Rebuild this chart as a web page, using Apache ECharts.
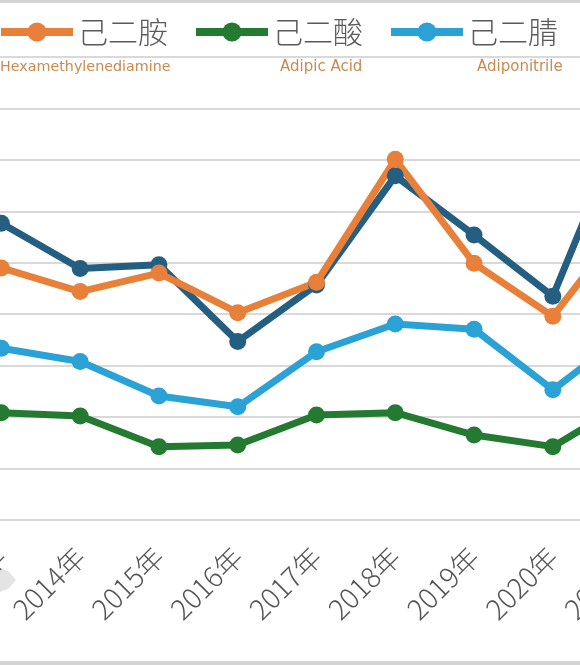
<!DOCTYPE html>
<html>
<head>
<meta charset="utf-8">
<script src="https://cdn.jsdelivr.net/npm/echarts@6/dist/echarts.min.js"></script>
<style>
html,body{margin:0;padding:0;background:#fff;overflow:hidden;}
#chart{width:580px;height:665px;}
</style>
</head>
<body>
<div id="chart"></div>
<script>
const years = ['2013年','2014年','2015年','2016年','2017年','2018年','2019年','2020年','2021年'];
const hmdaName = '己二胺';
const adipicName = '己二酸';
const adnName = '己二腈';
const otherName = '系列4';
const hmda   = [24500, 22200, 24000, 20150, 23100, 35050, 24950, 19800, 29600];
const adipic = [10430, 10110, 7130, 7290, 10210, 10430, 8260, 7130, 11700];
const adn    = [16700, 15400, 12050, 11000, 16350, 19050, 18550, 12650, 18500];
const other  = [28850, 24450, 24800, 17350, 22850, 33450, 27700, 21750, 40300];
const englishNames = ['Hexamethylenediamine', 'Adipic Acid', 'Adiponitrile'];
const yMin = 0, yMax = 45000, yStep = 5000;

const chart = echarts.init(document.getElementById('chart'));
const cjk = "'Noto Sans CJK SC','Noto Sans',sans-serif";
const enFont = "'DejaVu Sans',sans-serif";
function lineSeries(name, data, color) {
  return {
    name: name, type: 'line', data: data,
    symbol: 'circle', symbolSize: 17,
    lineStyle: {width: 7, color: color},
    itemStyle: {color: color},
    emphasis: {disabled: true}
  };
}
chart.setOption({
  animation: false,
  backgroundColor: '#fff',
  grid: {left: -38, right: -91, top: 57, bottom: 145, containLabel: false, outerBoundsMode: 'none'},
  legend: {
    data: [hmdaName, adipicName, adnName],
    left: -8, top: 12,
    itemWidth: 72, itemHeight: 24, itemGap: 24,
    lineStyle: {width: 8},
    textStyle: {fontSize: 30, color: '#5a5a5a', fontFamily: cjk, fontWeight: 300}
  },
  xAxis: {
    type: 'category', data: years, boundaryGap: true,
    axisLine: {show: true, lineStyle: {color: '#d9d9d9', width: 2}},
    axisTick: {show: false},
    axisLabel: {rotate: 45, margin: 32, fontSize: 28, color: '#555', fontFamily: cjk, fontWeight: 300, interval: 0}
  },
  yAxis: {
    type: 'value', min: yMin, max: yMax, interval: yStep,
    axisLabel: {show: false}, axisLine: {show: false}, axisTick: {show: false},
    splitLine: {lineStyle: {color: '#d9d9d9', width: 2}}
  },
  graphic: [
    {type: 'rect', shape: {x: 0, y: 0, width: 580, height: 3}, style: {fill: '#d4d4d4'}, silent: true},
    {type: 'rect', shape: {x: 0, y: 661, width: 580, height: 4}, style: {fill: '#d4d4d4'}, silent: true},
    {type: 'polygon', shape: {points: [[0,568],[8,571],[16,580],[8,589],[0,592]]}, style: {fill: '#e4e4e4'}, silent: true},
    {type: 'text', left: 0, top: 60, style: {text: englishNames[0], fontSize: 14.3, fill: '#c98a50', fontFamily: enFont}},
    {type: 'text', left: 280, top: 60, style: {text: englishNames[1], fontSize: 15, fill: '#c98a50', fontFamily: enFont}},
    {type: 'text', left: 477, top: 60, style: {text: englishNames[2], fontSize: 15, fill: '#c98a50', fontFamily: enFont}}
  ],
  series: [
    lineSeries(otherName, other, '#245f82'),
    lineSeries(hmdaName, hmda, '#e8803a'),
    lineSeries(adipicName, adipic, '#237a30'),
    lineSeries(adnName, adn, '#2aa2d6')
  ]
});
</script>
</body>
</html>
